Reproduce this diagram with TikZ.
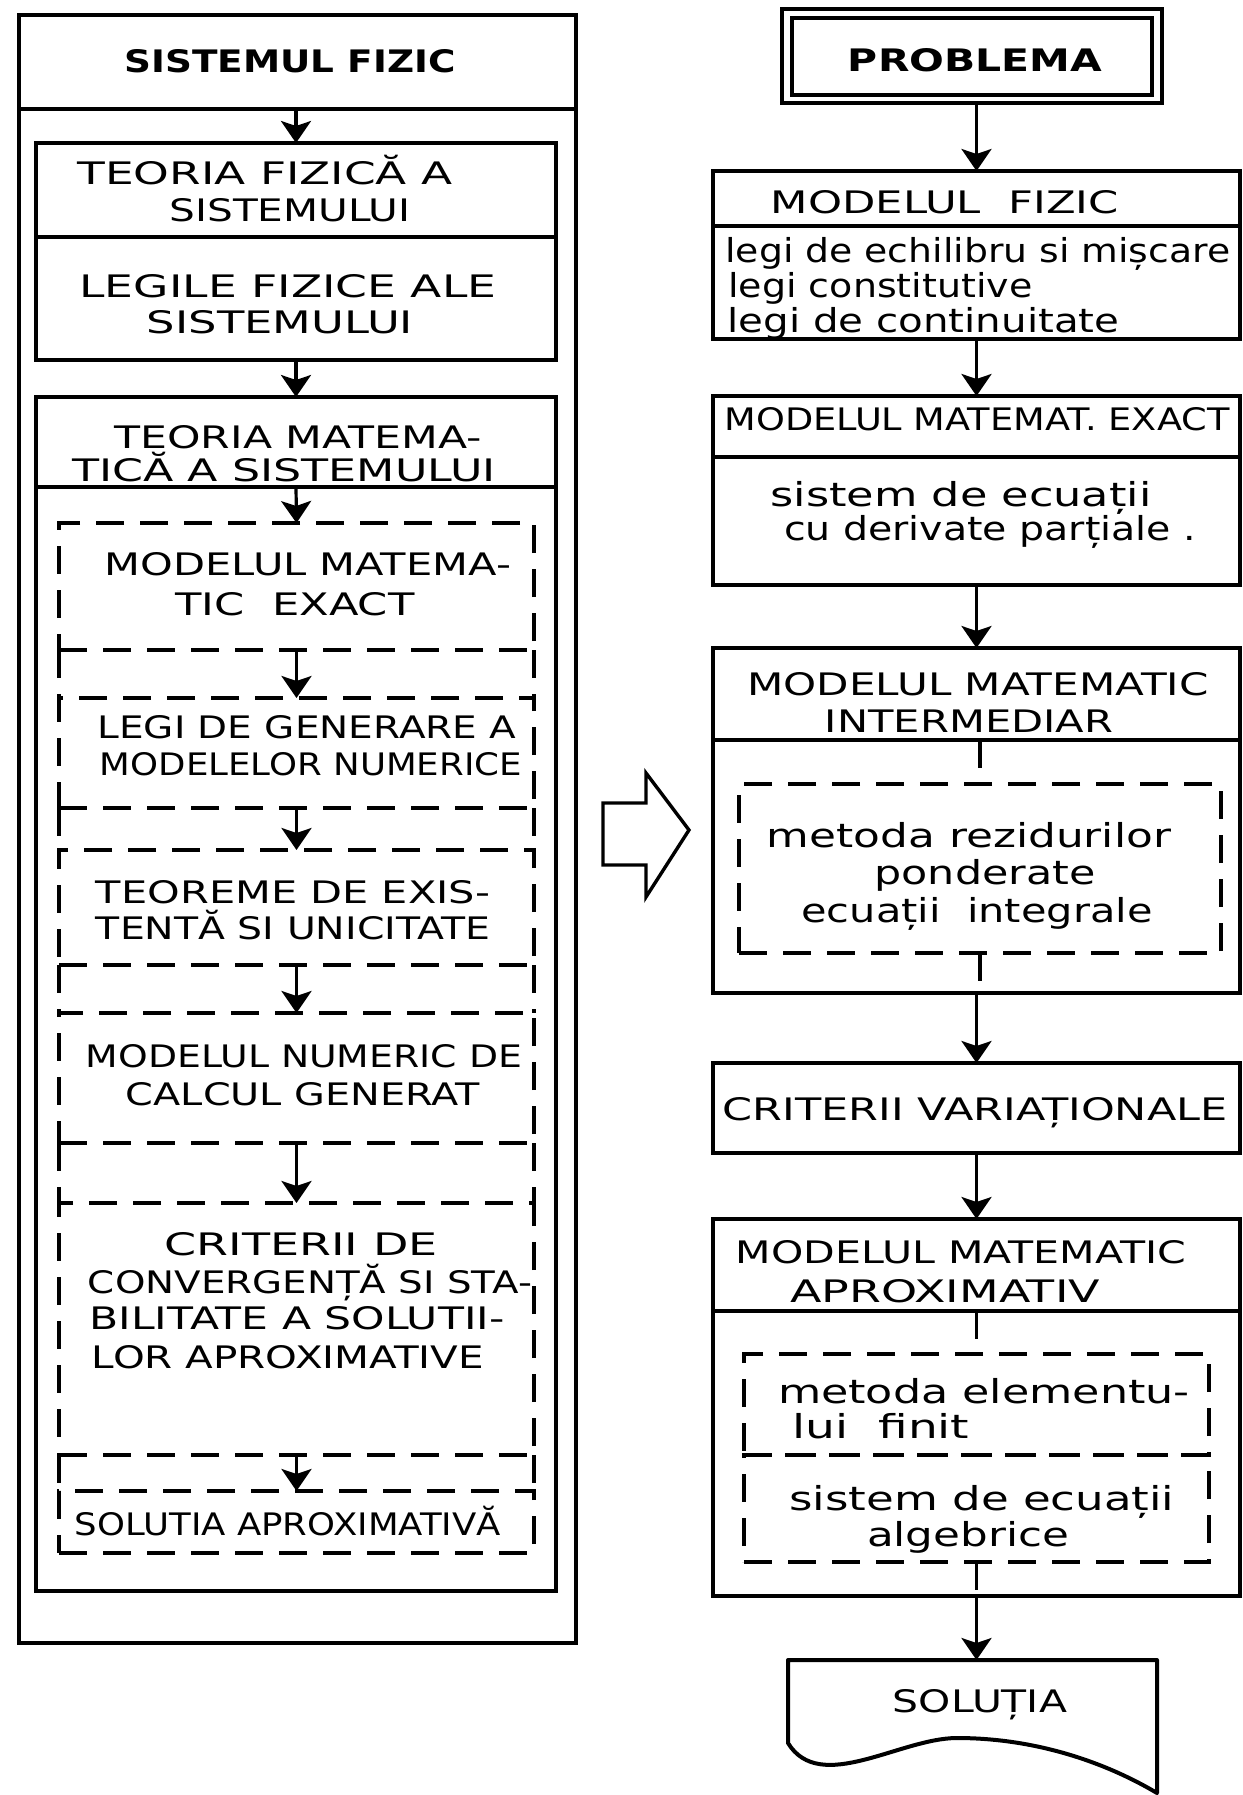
\documentclass[tikz,border=0pt]{standalone}
\usepackage{fontspec}
\setmainfont{DejaVu Sans}
\usepackage{graphicx}
\usetikzlibrary{arrows.meta,fit}

% one drawing unit = 0.5pt; text lines are stretched to a given width
\newdimen\pxu \pxu=0.5pt
\newcommand\fitw[2]{\resizebox{#1\pxu}{\height}{#2}}

\tikzset{
  frame/.style={draw, line width=2pt, inner sep=0pt, outer sep=0pt},
  dbox/.style={draw, line width=1.6pt, dash pattern=on 14pt off 8pt, inner sep=0pt, outer sep=0pt},
  dline/.style={line width=1.6pt, dash pattern=on 14pt off 8pt},
  arr/.style={line width=1.6pt, -{Stealth[length=11pt,width=15pt,inset=2.5pt]}},
  captxt/.style={inner sep=0pt, anchor=base, font=\fontsize{15.5pt}{18pt}\selectfont},
  capbold/.style={captxt, font=\fontsize{15.5pt}{18pt}\selectfont\bfseries},
  lowtxt/.style={inner sep=0pt, anchor=base, font=\fontsize{16.5pt}{20pt}\selectfont},
  lowleft/.style={lowtxt, anchor=base west},
}

\begin{document}
\begin{tikzpicture}[x=0.5pt,y=-0.5pt]
\useasboundingbox (0,0) rectangle (1243,1795);

% ---------------- left column: the physical system ----------------
\node[frame, fit={(19,15) (576,109)}] (sfh) {};
\node[frame, fit={(19,109) (576,1643)}] (sfb) {};
\node[frame, fit={(36,143) (556,237)}] (tf) {};
\node[frame, fit={(36,237) (556,360)}] (lf) {};
\node[frame, fit={(36,397) (556,487)}] (tmh) {};
\node[frame, fit={(36,487) (556,1591)}] (tmb) {};

\node[dbox, fit={(59,523) (534,650)}] (dA) {};
\node[dbox, fit={(59,698) (534,808)}] (dB) {};
\node[dbox, fit={(59,850) (534,965)}] (dC) {};
\node[dbox, fit={(59,1013) (534,1143)}] (dD) {};
\node[dbox, fit={(59,1203) (534,1455)}] (dE) {};
\node[dbox, fit={(59,1491) (534,1553)}] (dF) {};

\draw[arr] (sfh.south -| tf.north) -- (tf.north);
\draw[arr] (lf.south) -- (tmh.north);
\draw[arr] (tmh.south) -- (dA.north);
\foreach \a/\b in {dA/dB,dB/dC,dC/dD,dD/dE,dE/dF}{
  \draw[dline] (\a.south west) -- (\b.north west);
  \draw[dline] (\a.south east) -- (\b.north east);
  \draw[arr] (\a.south) -- (\b.north);
}

\node[capbold] (l1) at (290,72) {\fitw{331}{SISTEMUL FIZIC}};
\node[captxt] (l2) at (265,184) {\fitw{375}{TEORIA FIZICĂ A}};
\node[captxt] (l3) at (290,221) {\fitw{241}{SISTEMULUI}};
\node[captxt] (l4) at (288,297) {\fitw{417}{LEGILE FIZICE ALE}};
\node[captxt] (l5) at (280,333) {\fitw{266}{SISTEMULUI}};
\node[captxt] (l6) at (298,448) {\fitw{367}{TEORIA MATEMA-}};
\node[captxt] (l7) at (284,481) {\fitw{423}{TICĂ A SISTEMULUI}};
\node[captxt] (l8) at (308,575) {\fitw{406}{MODELUL MATEMA-}};
\node[captxt] (l9) at (295,615) {\fitw{239}{TIC \ EXACT}};
\node[captxt] (l10) at (307,738) {\fitw{419}{LEGI DE GENERARE A}};
\node[captxt] (l11) at (311,775) {\fitw{422}{MODELELOR NUMERICE}};
\node[captxt] (l12) at (293,903) {\fitw{394}{TEOREME DE EXIS-}};
\node[captxt] (l13) at (293,939) {\fitw{394}{TENTĂ SI UNICITATE}};
\node[captxt] (l14) at (304,1067) {\fitw{436}{MODELUL NUMERIC DE}};
\node[captxt] (l15) at (303,1105) {\fitw{354}{CALCUL GENERAT}};
\node[captxt] (l16) at (301,1255) {\fitw{273}{CRITERII DE}};
\node[captxt] (l17) at (310,1293) {\fitw{444}{CONVERGENȚĂ SI STA-}};
\node[captxt] (l18) at (297,1329) {\fitw{415}{BILITATE A SOLUTII-}};
\node[captxt] (l19) at (288,1368) {\fitw{392}{LOR APROXIMATIVE}};
\node[captxt] (l20) at (288,1535) {\fitw{426}{SOLUTIA APROXIMATIVĂ}};

% ---------------- hollow arrow between the columns ----------------
\draw[line width=1.7pt, line join=miter]
  (603,803) -- (646,803) -- (646,773) -- (689,830) -- (646,897) -- (646,865) -- (603,865) -- cycle;

% ---------------- right column: the problem ----------------
\node[frame, fit={(782,9) (1162,103)}] (pbo) {};
\node[frame, fit={(792,18) (1152,95)}] (pb) {};
\node[frame, fit={(713,171) (1240,226)}] (mfh) {};
\node[frame, fit={(713,226) (1240,339)}] (mfb) {};
\node[frame, fit={(713,396) (1240,457)}] (meh) {};
\node[frame, fit={(713,457) (1240,585)}] (meb) {};
\node[frame, fit={(713,648) (1240,740)}] (mih) {};
\node[frame, fit={(713,740) (1240,993)}] (mib) {};
\node[dbox, fit={(739,784) (1221,953)}] (mrp) {};
\node[frame, fit={(713,1063) (1240,1153)}] (cv) {};
\node[frame, fit={(713,1219) (1240,1311)}] (mah) {};
\node[frame, fit={(713,1311) (1240,1596)}] (mab) {};
\node[dbox, fit={(744,1354) (1209,1455)}] (mef) {};
\node[dbox, fit={(744,1455) (1209,1562)}] (sea) {};
\node[inner sep=0pt, outer sep=0pt, fit={(788,1660) (1157,1793)}] (sol) {};
\draw[line width=2pt, line join=round]
  (sol.north west) -- (788,1743)
  .. controls (820,1795) and (900,1738) .. (957,1738)
  .. controls (1040,1738) and (1110,1765) .. (sol.south east)
  -- (sol.north east) -- cycle;

\draw[arr] (pbo.south -| mfh.north) -- (mfh.north);
\draw[arr] (mfb.south) -- (meh.north);
\draw[arr] (meb.south) -- (mih.north);
\draw[dline] (mih.south -| mrp.north) -- (mrp.north);
\draw[dline] (mrp.south) -- (mrp.south |- mib.south);
\draw[arr] (mib.south) -- (cv.north);
\draw[arr] (cv.south) -- (mah.north);
\draw[dline] (mah.south -| mef.north) -- (mef.north);
\draw[dline] (sea.south) -- (sea.south |- mab.south);
\draw[arr] (mab.south) -- (mab.south |- sol.north);

\node[capbold] (r1) at (975,71) {\fitw{254}{PROBLEMA}};
\node[captxt] (r2) at (945,213) {\fitw{348}{MODELUL \ FIZIC}};
\node[lowleft] (r3) at (725,262) {\fitw{505}{legi de echilibru si mișcare}};
\node[lowleft] (r4) at (728,297) {\fitw{304}{legi constitutive}};
\node[lowleft] (r5) at (727,332) {\fitw{392}{legi de continuitate}};
\node[captxt] (r6) at (977,430) {\fitw{505}{MODELUL MATEMAT. EXACT}};
\node[lowtxt] (r7) at (961,506) {\fitw{381}{sistem de ecuații}};
\node[lowtxt] (r8) at (990,540) {\fitw{412}{cu derivate parțiale .}};
\node[captxt] (r9) at (978,695) {\fitw{461}{MODELUL MATEMATIC}};
\node[captxt] (r10) at (969,732) {\fitw{288}{INTERMEDIAR}};
\node[lowtxt] (r11) at (969,847) {\fitw{404}{metoda rezidurilor}};
\node[lowtxt] (r12) at (985,884) {\fitw{221}{ponderate}};
\node[lowtxt] (r13) at (977,922) {\fitw{351}{ecuații \ integrale}};
\node[captxt] (r14) at (975,1120) {\fitw{505}{CRITERII VARIAȚIONALE}};
\node[captxt] (r15) at (961,1263) {\fitw{450}{MODELUL MATEMATIC}};
\node[captxt] (r16) at (945,1302) {\fitw{310}{APROXIMATIV}};
\node[lowtxt] (r17) at (984,1403) {\fitw{412}{metoda elementu-}};
\node[lowleft] (r18) at (792,1438) {\fitw{177}{lui \ finit}};
\node[lowtxt] (r19) at (982,1510) {\fitw{385}{sistem de ecuații}};
\node[lowtxt] (r20) at (968,1546) {\fitw{202}{algebrice}};
\node[captxt] (r21) at (980,1712) {\fitw{174}{SOLUȚIA}};
\end{tikzpicture}
\end{document}
